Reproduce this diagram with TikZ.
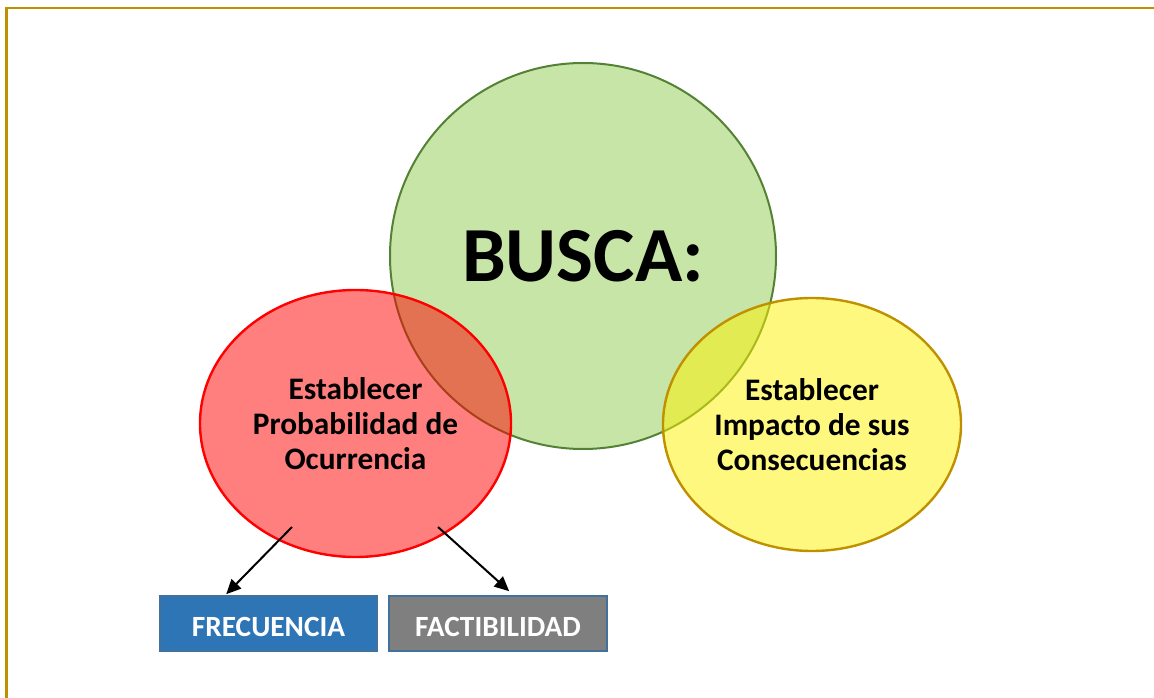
\documentclass[tikz,border=0pt]{standalone}
\usepackage{fontspec}
\setmainfont{Carlito}
\usepackage{tikz}
\usetikzlibrary{shapes.geometric,arrows.meta,calc}
\definecolor{goldline}{RGB}{191,144,0}
\definecolor{greenfill}{RGB}{200,229,168}
\definecolor{greenline}{RGB}{84,130,53}
\definecolor{blueblock}{RGB}{46,117,182}
\definecolor{blueedge}{RGB}{65,113,156}
\definecolor{grayblock}{RGB}{127,127,127}

\begin{document}
\begin{tikzpicture}[x=0.75pt,y=-0.75pt,
  bigcircle/.style={circle,draw=greenline,fill=greenfill,line width=1.5pt,
    minimum size=386*0.75pt,inner sep=0pt,font=\bfseries\fontsize{58.5}{70}\selectfont},
  blob/.style={ellipse,line width=1.8pt,fill opacity=0.5,text opacity=1,inner sep=0pt,
    align=center,font=\bfseries\fontsize{23.5}{26.25}\selectfont},
  block/.style={rectangle,draw=blueedge,line width=1.2pt,minimum height=55*0.75pt,
    text height=19pt,text depth=0pt,
    text=white,font=\bfseries\fontsize{22}{26}\selectfont},
  link/.style={line width=1.5pt,-{Triangle[length=11pt,width=10pt]}}]
  \useasboundingbox (0,0) rectangle (1154,698);
  % Draw frame
  \draw[goldline,line width=2.2pt] (6.5,698) -- (6.5,8) -- (1154,8);
  % Draw circles
  \node[bigcircle] (busca) at (583,256) {BUSCA:};
  \node[blob,draw=red,fill=red,minimum width=311*0.75pt,minimum height=267*0.75pt]
    (prob) at (355.5,423.5) {Establecer\\Probabilidad de\\Ocurrencia};
  \node[blob,draw=goldline,fill=yellow,minimum width=298*0.75pt,minimum height=253*0.75pt]
    (impacto) at (812,424.5) {Establecer\\Impacto de sus\\Consecuencias};
  % Draw boxes
  \node[block,fill=blueblock,minimum width=217*0.75pt] (frec) at (268.5,623.5) {FRECUENCIA};
  \node[block,fill=grayblock,minimum width=218*0.75pt] (fact) at (498,623.5) {FACTIBILIDAD};
  % Draw arrows
  \coordinate (p1) at (292,527);
  \coordinate (p2) at (438,527);
  \draw[link] (p1) -- ($(frec.north west)+(67,-1)$);
  \draw[link] (p2) -- ($(fact.north west)+(121,-4)$);
\end{tikzpicture}
\end{document}
